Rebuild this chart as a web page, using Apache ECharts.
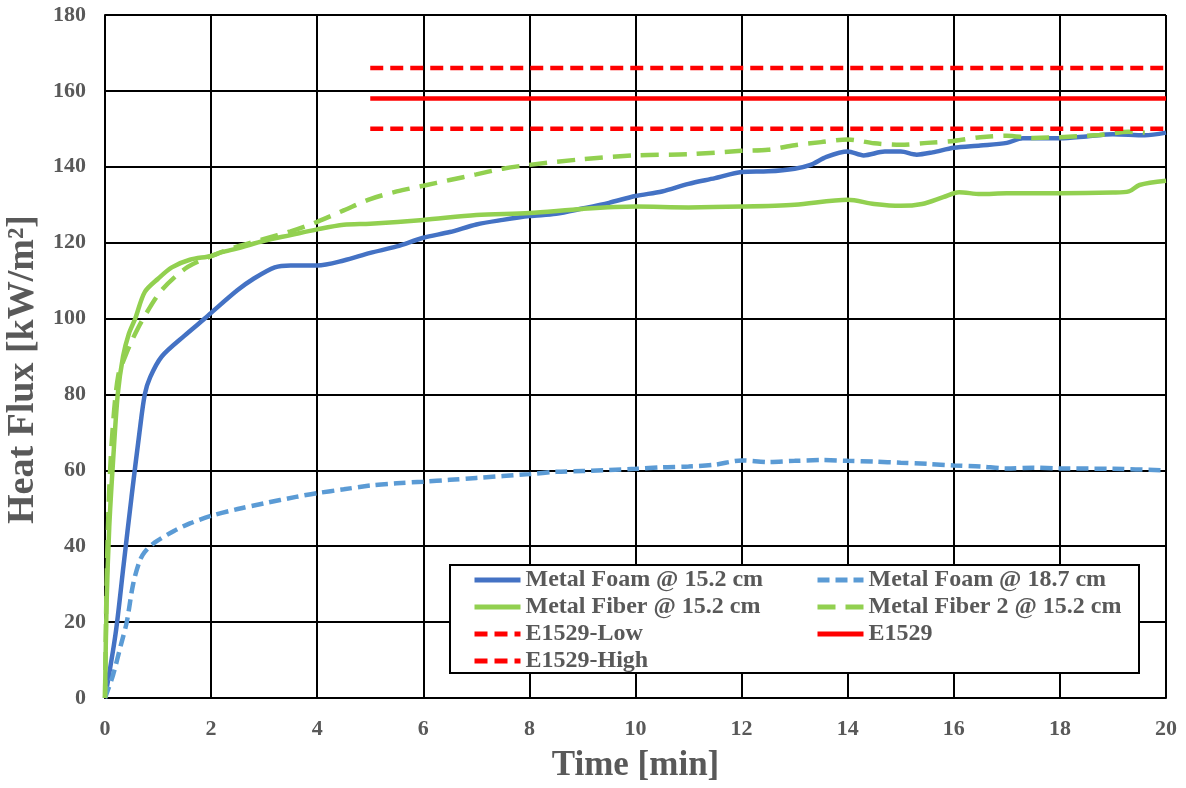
<!DOCTYPE html>
<html><head><meta charset="utf-8">
<script src="https://cdn.jsdelivr.net/npm/echarts@6/dist/echarts.min.js"></script>
<style>html,body{margin:0;padding:0;background:#fff}#c{width:1186px;height:788px}</style>
</head><body><div id="c"></div>
<script>
const xTicks = [0,2,4,6,8,10,12,14,16,18,20];
const yTicks = [0,20,40,60,80,100,120,140,160,180];

const foam152T = [0,0.2,0.35,0.5,0.65,0.75,0.85,1.07,1.5,1.88,2,2.5,2.8,3.2,3.5,4,4.5,5,5.5,6,6.5,7,7.5,8,8.5,9,9.5,10,10.5,11,11.5,12,12.5,13,13.3,13.6,14,14.3,14.7,15,15.3,15.6,16,16.5,17,17.3,18,18.5,19,19.6,20];
const foam152V = [0,17,35,53,70,80,84.5,90,95.5,100,101.5,107.5,110.5,113.5,114,114,115.3,117.3,119,121.3,122.8,124.8,126,127,127.6,129,130.5,132.3,133.5,135.5,137,138.6,138.8,139.5,140.5,142.6,144,143,144,144,143.2,143.8,145,145.6,146.3,147.5,147.5,148,148.6,148.3,149];

const foam187T = [0,0.15,0.3,0.41,0.53,0.65,0.75,0.94,1.3,1.6,2,2.5,3,3.6,4,4.5,5,5.5,6,6.5,7,8,8.5,9,10,10.5,11,11.5,12,12.5,13,13.5,14,14.5,15,15.5,16,16.5,17,17.5,18,19,20];
const foam187V = [0,6,14,20,30,36,38.5,41,44,46,48,49.8,51.3,53,54,55,56,56.6,57,57.5,58,59,59.6,59.8,60.4,60.8,61,61.5,62.6,62.2,62.5,62.7,62.5,62.3,62,61.7,61.3,61,60.5,60.7,60.5,60.4,60];

const fiber152T = [0,0.03,0.08,0.15,0.24,0.34,0.45,0.57,0.75,1,1.26,1.6,2,2.2,2.5,3,3.5,4,4.5,5,6,7,8,9,10,11,12,13,14,14.5,15,15.4,15.8,16.1,16.5,17,18,19,19.3,19.5,20];
const fiber152V = [0,25,45,62,80,90,96,100,107,110.5,113.5,115.5,116.5,117.5,118.5,120.5,122,123.5,124.7,125,126,127.3,127.8,128.9,129.5,129.3,129.5,130,131.3,130.2,129.7,130.2,132,133.3,132.8,133,133,133.2,133.5,135.2,136.3];

const fiber2T = [0,0.03,0.08,0.15,0.25,0.38,0.5,0.7,1.07,1.56,2.1,2.5,3,3.5,4,4.5,5,5.5,6,6.5,7,7.5,8,9,10,11,12,12.5,13,13.5,14,14.5,15,15.5,16,16.5,17,17.5,18,18.75,19.3,19.6];
const fiber2V = [0,30,55,72,85,90,94,99.5,107.5,113.6,117,119,121,123,125.5,128.5,131.5,133.5,135,136.5,138,139.5,140.5,142,143,143.3,144.2,144.5,145.7,146.5,147.2,146.2,145.8,146.3,146.8,147.8,148.2,147.6,147.8,148.4,149.2,149];

const e1529T = [5,20];
const e1529LowV = [150,150];
const e1529V = [158,158];
const e1529HighV = [166,166];

const zip = (t,v) => t.map((x,i)=>[x,v[i]]);
const FONT = "'Liberation Serif','Times New Roman',serif";
const GREY = '#595959';

const mk = (name, t, v, color, type, smooth) => ({
  name, type:'line', data: zip(t,v), symbol:'none', smooth: smooth,
  lineStyle:{color, width:4.5, type}, itemStyle:{color}, z:3
});

const legendCommon = {
  orient:'vertical', top:563, itemWidth:46, itemHeight:14, itemGap:3, z:20,
  itemStyle:{opacity:0}, lineStyle:{width:5},
  textStyle:{fontFamily:FONT, fontWeight:'bold', fontSize:24, color:GREY, lineHeight:22}
};

const chart = echarts.init(document.getElementById('c'));
chart.setOption({
  animation:false,
  backgroundColor:'#fff',
  grid:{left:105, right:20, top:15, bottom:90, outerBoundsMode:'none', containLabel:false},
  xAxis:{type:'value', min:0, max:20, interval:2,
    name:'Time [min]', nameLocation:'middle', nameGap:50,
    nameTextStyle:{fontFamily:FONT, fontWeight:'bold', fontSize:35, color:GREY},
    axisLine:{lineStyle:{color:'#000', width:2}},
    axisTick:{show:false},
    axisLabel:{fontFamily:FONT, fontWeight:'bold', fontSize:22, color:GREY, margin:20},
    splitLine:{show:true, lineStyle:{color:'#000', width:2}}},
  yAxis:{type:'value', min:0, max:180, interval:20,
    name:'Heat Flux [kW/m²]', nameLocation:'middle', nameGap:58,
    nameTextStyle:{fontFamily:FONT, fontWeight:'bold', fontSize:38, color:GREY, padding:[0,26,0,0]},
    axisLine:{show:true, lineStyle:{color:'#000', width:2}},
    axisTick:{show:false},
    axisLabel:{fontFamily:FONT, fontWeight:'bold', fontSize:22, color:GREY, margin:19},
    splitLine:{show:true, lineStyle:{color:'#000', width:2}}},
  graphic:[{type:'rect', left:449, top:564, z:10,
    shape:{width:689, height:108},
    style:{fill:'#fff', stroke:'#000', lineWidth:2}}],
  legend:[
    Object.assign({data:['Metal Foam @ 15.2 cm','Metal Fiber @ 15.2 cm','E1529-Low','E1529-High'], left:467}, legendCommon),
    Object.assign({data:['Metal Foam @ 18.7 cm','Metal Fiber 2 @ 15.2 cm','E1529'], left:810}, legendCommon)
  ],
  series:[
    mk('Metal Foam @ 15.2 cm', foam152T, foam152V, '#4472C4', 'solid', 0.3),
    mk('Metal Foam @ 18.7 cm', foam187T, foam187V, '#5B9BD5', [12,6], 0.3),
    mk('Metal Fiber @ 15.2 cm', fiber152T, fiber152V, '#92D050', 'solid', 0.3),
    mk('Metal Fiber 2 @ 15.2 cm', fiber2T, fiber2V, '#92D050', [18,10], 0.3),
    mk('E1529-Low', e1529T, e1529LowV, '#FF0000', [13,7], false),
    mk('E1529', e1529T, e1529V, '#FF0000', 'solid', false),
    mk('E1529-High', e1529T, e1529HighV, '#FF0000', [13,7], false)
  ]
});
</script></body></html>
